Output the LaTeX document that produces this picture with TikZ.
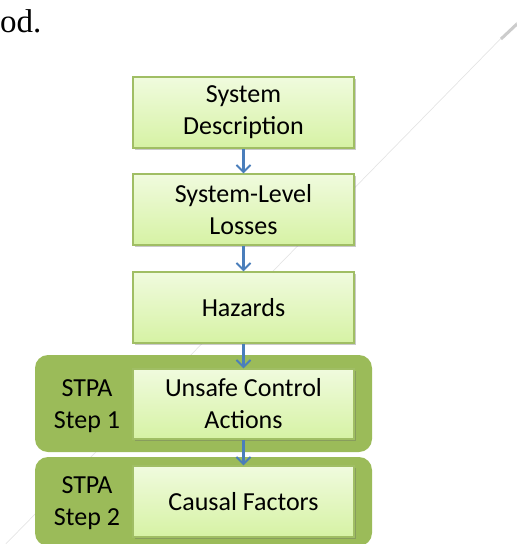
\documentclass[tikz,border=0pt]{standalone}
\usepackage{fontspec}
\setmainfont{Carlito}
\newfontfamily\serifface{Liberation Serif}
\usetikzlibrary{arrows.meta,shadows}
\definecolor{stepgreen}{RGB}{155,187,89}
\definecolor{boxedge}{RGB}{160,190,100}
\definecolor{boxtop}{RGB}{240,251,222}
\definecolor{boxbottom}{RGB}{214,242,164}
\definecolor{flowblue}{RGB}{74,126,187}
\tikzset{
  stepbox/.style={draw=boxedge, line width=1.2pt, rectangle, inner sep=0pt,
    minimum width=221pt, align=center,
    top color=boxtop, bottom color=boxbottom,
    font=\fontsize{26}{32}\selectfont,
    drop shadow={shadow xshift=1.5pt, shadow yshift=-1.5pt, opacity=0.35, fill=black!60}},
  groupbox/.style={fill=stepgreen, rounded corners=13pt, inner sep=0pt,
    minimum width=337pt},
  grouplabel/.style={align=center, inner sep=0pt, font=\fontsize{26}{32}\selectfont},
  flow/.style={draw=flowblue, line width=2.2pt,
    -{Straight Barb[length=7pt,width=14pt,line width=2pt]}},
  faint/.style={draw=black!10, line width=0.7pt}
}
\begin{document}
\begin{tikzpicture}[x=1pt,y=-1pt]
\useasboundingbox (0,0) rectangle (517,544);
% faint diagonal rule running behind the chart
\draw[faint] (517,22) -- (-6,556);
\draw[draw=black!20, line width=3pt] (517,24) -- (501,39);
% tail of the preceding sentence
\node[anchor=base west, inner sep=0pt, font=\serifface\fontsize{33}{36}\selectfont] (tail) at (0,32) {od.};
% STPA step groups
\node[groupbox, minimum height=97pt] (g1) at (203.5,403.5) {};
\node[groupbox, minimum height=89pt] (g2) at (203.5,501.5) {};
\node[grouplabel] (s1) at (87,406) {STPA\\Step 1};
\node[grouplabel] (s2) at (87,503) {STPA\\Step 2};
% process boxes
\node[stepbox, minimum height=71pt] (sd) at (243.5,112.5) {System\\Description};
\node[stepbox, minimum height=71pt] (sl) at (243.5,209.5) {System-Level\\Losses};
\node[stepbox, minimum height=71pt] (hz) at (243.5,307.5) {Hazards};
\node[stepbox, minimum height=70pt] (uca) at (243.5,404) {Unsafe Control\\Actions};
\node[stepbox, minimum height=71pt] (cf) at (243.5,501.5) {Causal Factors};
% flow arrows
\draw[flow] (sd.south) -- (sl.north);
\draw[flow] (sl.south) -- (hz.north);
\draw[flow] (hz.south) -- (uca.north);
\draw[flow] (uca.south) -- (cf.north);
\end{tikzpicture}
\end{document}
